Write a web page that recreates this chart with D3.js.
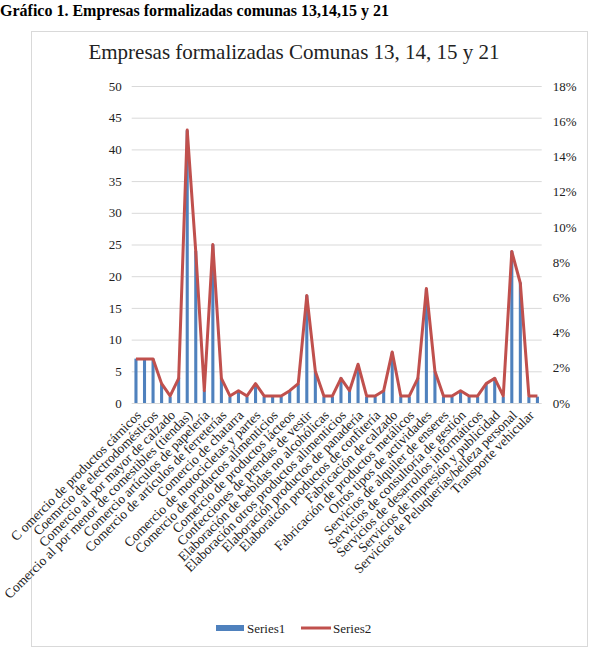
<!DOCTYPE html>
<html>
<head>
<meta charset="utf-8">
<script src="https://cdn.jsdelivr.net/npm/d3@7"></script>
<style>
  body { margin: 0; background: #fff; }
  text { font-family: "Liberation Serif", "Times New Roman", serif; }
</style>
</head>
<body>
<script>
	// etiquetas visibles del eje x (Excel muestra una de cada dos categorias)
	var tickLabels = [
		'C omercio de productos cárnicos',
		'Coemrcio de electrodomésticos',
		'Comercio al por mayor de calzado',
		'Comercio al por menor de comestibles (tiendas)',
		'Comercio artículos de papelería',
		'Comercio de artículos de ferreterías',
		'Comercio de chatarra',
		'Comercio de motocicletas y partes',
		'Comercio de productos alimenticios',
		'Comercio de productos lácteos',
		'Confecciones de prendas de vestir',
		'Elaboración de bebidas no alcohólicas',
		'Elaboración otros productos alimenticios',
		'Elaboración productos de panadería',
		'Elaboraicón productos de confitería',
		'Fabricación de calzado',
		'Fabricación de productos metálicos',
		'Otros tipos de actividades',
		'Servicios de alquiler de enseres',
		'Servicios de consultoría de gestión',
		'Servicios de desarrollos informáticos',
		'Servicios de impresión y publicidad',
		'Servicios de Peluquerías/belleza personal',
		'Transporte vehicular'
	]
	// Series1: numero de empresas por categoria (48 categorias)
	var series1 = [7, 7, 7, 3, 1, 4, 43, 24, 2, 25, 4, 1, 2, 1, 3, 1,
		1, 1, 2, 3, 17, 5, 1, 1, 4, 2, 6, 1, 1, 2, 8, 1,
		1, 4, 18, 5, 1, 1, 2, 1, 1, 3, 4, 1, 24, 19, 1, 1]
	// Series2: porcentaje (eje derecho)
	var series2 = [0.025, 0.025, 0.025, 0.011, 0.004, 0.014, 0.155, 0.086, 0.007, 0.090, 0.014, 0.004, 0.007, 0.004, 0.011, 0.004,
		0.004, 0.004, 0.007, 0.011, 0.061, 0.018, 0.004, 0.004, 0.014, 0.007, 0.022, 0.004, 0.004, 0.007, 0.029, 0.004,
		0.004, 0.014, 0.065, 0.018, 0.004, 0.004, 0.007, 0.004, 0.004, 0.011, 0.014, 0.004, 0.086, 0.068, 0.004, 0.004]
	var leftTicks = [0, 5, 10, 15, 20, 25, 30, 35, 40, 45, 50]
	var rightTicks = [0, 0.02, 0.04, 0.06, 0.08, 0.10, 0.12, 0.14, 0.16, 0.18]

	var width = 591, height = 648
	var plot = {left: 131.7, right: 541.7, top: 86, bottom: 403}
	var serif = '"Liberation Serif", "Times New Roman", serif'

	var svg = d3.select('body').append('svg')
		.attr('width', width)
		.attr('height', height)

	// titulo del documento
	svg.append('text')
		.attr('x', 0)
		.attr('y', 16)
		.attr('font-size', 16)
		.attr('font-weight', 'bold')
		.attr('fill', '#000')
		.text('Gráfico 1. Empresas formalizadas comunas 13,14,15 y 21')

	// marco del grafico
	svg.append('rect')
		.attr('x', 31.5)
		.attr('y', 31.5)
		.attr('width', 556)
		.attr('height', 615)
		.attr('fill', '#fff')
		.attr('stroke', '#d9d9d9')

	svg.append('text')
		.attr('x', 294)
		.attr('y', 59)
		.attr('text-anchor', 'middle')
		.attr('font-size', 21)
		.attr('fill', '#222')
		.text('Empresas formalizadas Comunas 13, 14, 15 y 21')

	var x = d3.scaleBand()
		.domain(d3.range(series1.length))
		.range([plot.left, plot.right])
		.paddingInner(0.64)
		.paddingOuter(0.32)
	var y = d3.scaleLinear().domain([0, 50]).range([plot.bottom, plot.top])
	var y2 = d3.scaleLinear().domain([0, 0.18]).range([plot.bottom, plot.top])

	// lineas de cuadricula + eje izquierdo
	var gl = svg.append('g')
		.attr('transform', 'translate(' + plot.left + ',0)')
		.call(d3.axisLeft(y).tickValues(leftTicks).tickSize(-(plot.right - plot.left)).tickPadding(10))
	gl.select('.domain').remove()
	gl.selectAll('.tick line').attr('stroke', '#d9d9d9')
	gl.selectAll('.tick text').attr('font-size', 13).attr('fill', '#222')
		.style('font-family', serif)

	var gr = svg.append('g')
		.attr('transform', 'translate(' + plot.right + ',0)')
		.call(d3.axisRight(y2).tickValues(rightTicks).tickSize(0).tickPadding(11).tickFormat(d3.format('.0%')))
	gr.select('.domain').remove()
	gr.selectAll('.tick text').attr('font-size', 13).attr('fill', '#222')
		.style('font-family', serif)

	// barras Series1
	svg.selectAll('rect.bar')
		.data(series1)
		.enter()
		.append('rect')
		.attr('class', 'bar')
		.attr('x', function(d, i){ return x(i) })
		.attr('y', function(d){ return y(d) })
		.attr('width', x.bandwidth())
		.attr('height', function(d){ return y(0) - y(d) })
		.attr('fill', '#4f81bd')

	// linea Series2
	var line = d3.line()
		.x(function(d, i){ return x(i) + x.bandwidth() / 2 })
		.y(function(d){ return y2(d) })
	svg.append('path')
		.datum(series2)
		.attr('d', line)
		.attr('fill', 'none')
		.attr('stroke', '#c0504d')
		.attr('stroke-width', 3)
		.attr('stroke-linejoin', 'round')

	// eje x con etiquetas rotadas
	var gx = svg.append('g')
		.attr('transform', 'translate(0,' + plot.bottom + ')')
		.call(d3.axisBottom(x)
			.tickValues(d3.range(0, series1.length, 2))
			.tickSize(0)
			.tickFormat(function(i){ return tickLabels[i / 2] }))
	gx.select('.domain').remove()
	gx.selectAll('.tick text')
		.attr('font-size', 13.5)
		.attr('fill', '#222')
		.style('font-family', serif)
		.attr('text-anchor', 'end')
		.attr('x', 0)
		.attr('y', 0)
		.attr('dy', 0)
		.attr('transform', 'translate(6,13) rotate(-45)')

	// leyenda
	var legend = svg.append('g').attr('transform', 'translate(0,628)')
	legend.append('rect')
		.attr('x', 216).attr('y', -3).attr('width', 28).attr('height', 6)
		.attr('fill', '#4f81bd')
	legend.append('text')
		.attr('x', 247).attr('y', 4.5).attr('font-size', 13).attr('fill', '#222')
		.text('Series1')
	legend.append('line')
		.attr('x1', 301).attr('x2', 331).attr('y1', 0).attr('y2', 0)
		.attr('stroke', '#c0504d').attr('stroke-width', 3)
	legend.append('text')
		.attr('x', 333).attr('y', 4.5).attr('font-size', 13).attr('fill', '#222')
		.text('Series2')
</script>
</body>
</html>
